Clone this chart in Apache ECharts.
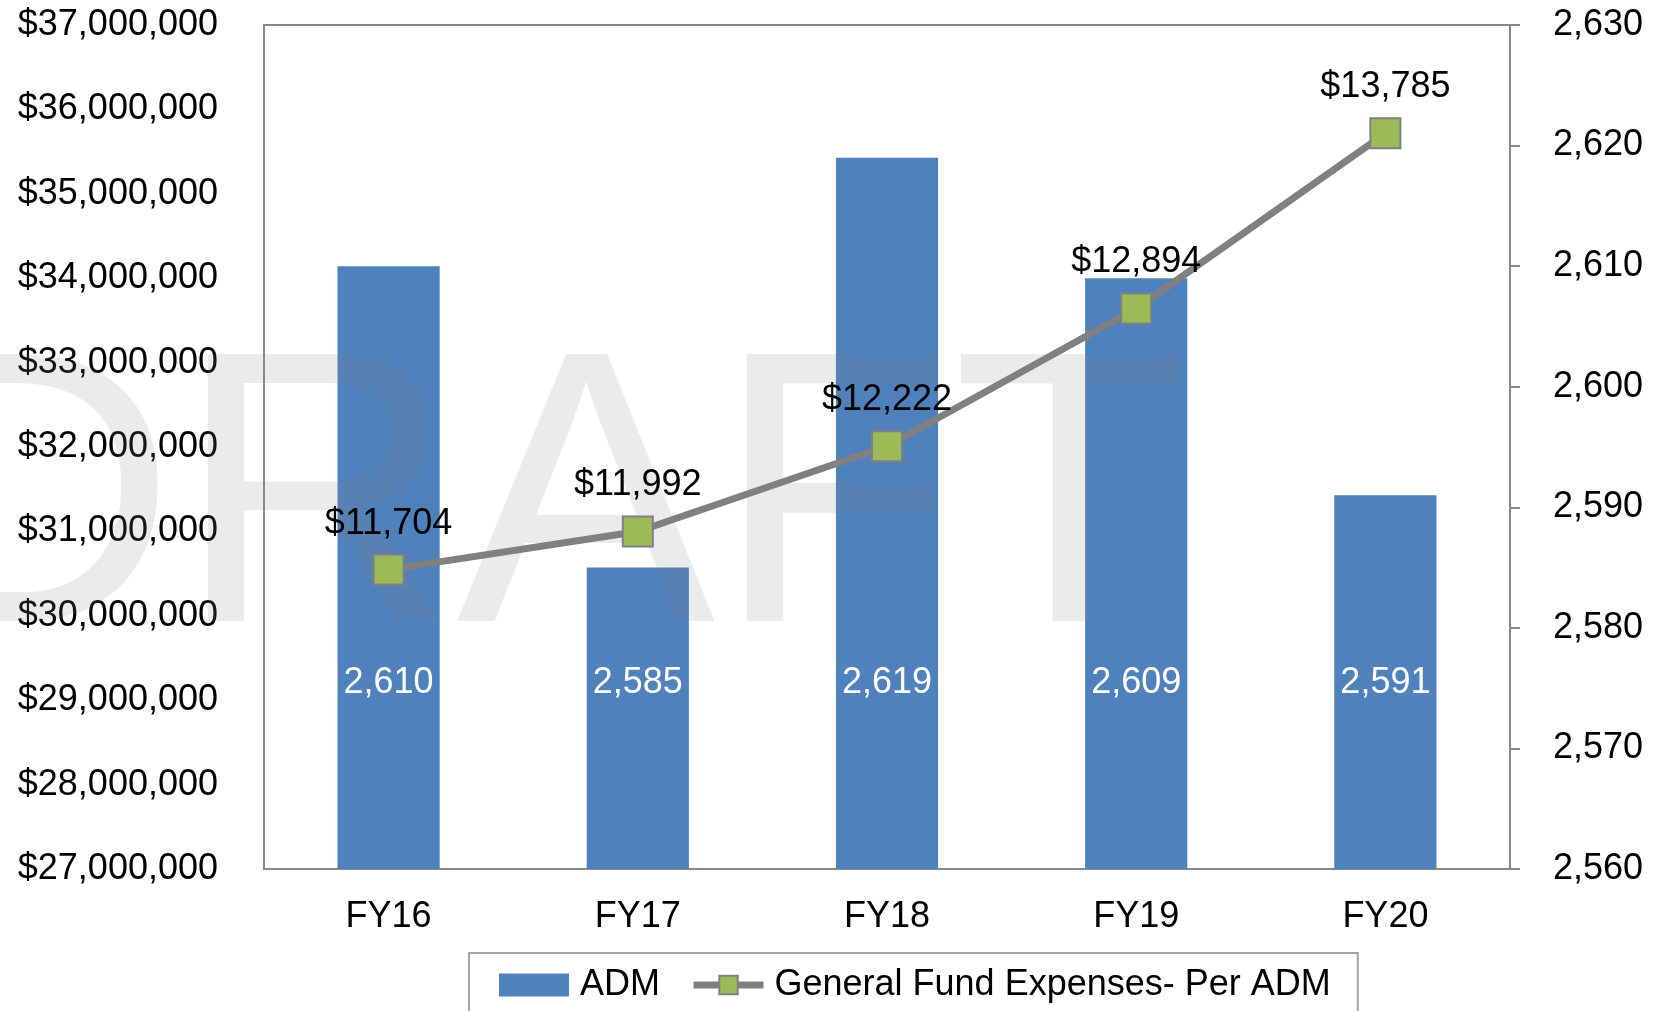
<!DOCTYPE html>
<html>
<head>
<meta charset="utf-8">
<script src="https://cdn.jsdelivr.net/npm/echarts@6/dist/echarts.min.js"></script>
<style>
  html, body { margin: 0; padding: 0; background: #fff; }
  #chart { width: 1673px; height: 1011px; }
</style>
</head>
<body>
<div id="chart"></div>
<script>
// data
const years = ['FY16', 'FY17', 'FY18', 'FY19', 'FY20'];
const adm = [2610, 2585, 2619, 2609, 2591];
// per ADM label values, and where each point sits on the left ($ total) axis
const perAdm = [11704, 11992, 12222, 12894, 13785];
const totalExpenses = [30547440, 30999320, 32009418, 33640446, 35716935];

const fmt = v => v.toLocaleString('en-US');
const font = 'Liberation Sans, Arial, sans-serif';

const chart = echarts.init(document.getElementById('chart'));

const option = {
  animation: false,
  textStyle: { fontFamily: font },
  grid: {
    left: 264, right: 163, top: 25, bottom: 142,
    show: true, borderColor: '#898989', borderWidth: 2
  },
  legend: {
    left: 469, top: 953,
    padding: [14, 27, 40, 30],
    borderColor: '#a6a6a6', borderWidth: 2,
    itemWidth: 70, itemHeight: 23, itemGap: 30,
    textStyle: { fontSize: 36, color: '#000', fontFamily: font, padding: [0, 0, 0, 6] },
    data: [
      { name: 'ADM', icon: 'rect' },
      { name: 'General Fund Expenses- Per ADM', lineStyle: { width: 7, color: '#808080' } }
    ]
  },
  xAxis: {
    type: 'category',
    data: years,
    axisLine: { lineStyle: { color: '#898989', width: 2 } },
    axisTick: { show: false },
    axisLabel: { fontSize: 36, color: '#000', margin: 30 }
  },
  yAxis: [
    {
      type: 'value',
      min: 27000000, max: 37000000, interval: 1000000,
      splitLine: { show: false },
      axisLine: { show: true, lineStyle: { color: '#898989', width: 2 } },
      axisTick: { show: false },
      axisLabel: { fontSize: 36, color: '#000', margin: 46, formatter: v => '$' + fmt(v) }
    },
    {
      type: 'value',
      min: 2560, max: 2630, interval: 10,
      splitLine: { show: false },
      axisLine: { show: true, lineStyle: { color: '#898989', width: 2 } },
      axisTick: { show: true, length: 10, lineStyle: { color: '#898989', width: 2 } },
      axisLabel: { fontSize: 36, color: '#000', margin: 43, formatter: v => fmt(v) }
    }
  ],
  graphic: [
    {
      type: 'text',
      left: -104, top: 320,
      z: 5,
      silent: true,
      style: {
        text: 'DRAFT',
        font: '388px ' + font,
        fill: 'rgba(133,133,133,0.165)'
      }
    }
  ],
  series: [
    {
      name: 'ADM',
      type: 'bar',
      yAxisIndex: 1,
      data: adm,
      barCategoryGap: '59%',
      itemStyle: { color: '#4F81BD' },
      z: 2,
      label: {
        show: true,
        position: 'insideBottom',
        distance: 168,
        color: '#fff',
        fontSize: 36,
        formatter: p => fmt(p.value)
      }
    },
    {
      name: 'General Fund Expenses- Per ADM',
      type: 'line',
      yAxisIndex: 0,
      data: totalExpenses,
      z: 10,
      symbol: 'rect',
      symbolSize: 30,
      lineStyle: { color: '#808080', width: 7 },
      itemStyle: { color: '#9BBB59', borderColor: '#808080', borderWidth: 2 },
      label: {
        show: true,
        position: 'top',
        distance: 12,
        color: '#000',
        fontSize: 36,
        formatter: p => '$' + fmt(perAdm[p.dataIndex])
      }
    }
  ]
};

chart.setOption(option);
</script>
</body>
</html>
